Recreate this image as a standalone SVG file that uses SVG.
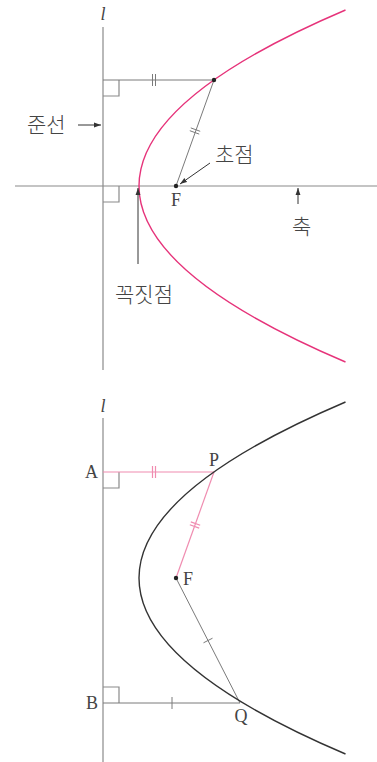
<svg xmlns="http://www.w3.org/2000/svg" width="377" height="762" viewBox="0 0 377 762">
<style>
.ax{stroke:#8a8a8a;stroke-width:1.2;fill:none}
.thin{stroke:#7a7a7a;stroke-width:1;fill:none}
.pk{stroke:#f08cb0;stroke-width:1.2;fill:none}
.mag{stroke:#e6337a;stroke-width:1.4;fill:none}
.dk{stroke:#333;stroke-width:1.4;fill:none}
.ko{font-family:"Noto Sans CJK KR",sans-serif;font-size:21px;font-weight:300;fill:#444}
.lt{font-family:"Liberation Serif",serif;font-size:18px;fill:#444}
.it{font-family:"Liberation Serif",serif;font-size:18px;font-style:italic;fill:#444}
</style>
<defs>
<marker id="ah" viewBox="0 0 10 10" refX="10" refY="5" markerWidth="7" markerHeight="7" markerUnits="userSpaceOnUse" orient="auto"><path d="M0,1.5 L10,5 L0,8.5 Z" fill="#333"/></marker>
</defs>
<rect width="377" height="762" fill="#fff"/>
<g id="top">
<g id="top-lines">
<line class="ax" x1="103" y1="27" x2="103" y2="370"/>
<line class="ax" x1="15" y1="186" x2="377" y2="186"/>
<path class="ax" d="M103,96 H119 V80"/>
<path class="ax" d="M103,202 H119 V186"/>
<line class="thin" x1="103" y1="80" x2="214" y2="80"/>
<line class="thin" x1="214" y1="80" x2="176" y2="186"/>
<path class="thin" d="M152.5,74 V86 M155.5,74 V86"/>
<path class="thin" d="M189.8,130.7 L199.2,134.1 M190.8,127.9 L200.2,131.3"/>
</g>
<path id="top-curve" class="mag" d="M345.5,10 Q-67.5,186 345.5,362"/>
<circle cx="214" cy="80" r="2.2" fill="#222"/>
<circle cx="176" cy="186" r="2.2" fill="#222"/>
<g id="top-arrows" stroke="#333" stroke-width="1" fill="none">
<line x1="78" y1="125" x2="101" y2="125" marker-end="url(#ah)"/>
<line x1="210" y1="163" x2="180" y2="184" marker-end="url(#ah)"/>
<line x1="298" y1="204" x2="298" y2="188" marker-end="url(#ah)"/>
<line x1="138" y1="264" x2="138" y2="188" marker-end="url(#ah)"/>
</g>
<g id="top-labels">
<text class="it" x="103" y="20" text-anchor="middle">l</text>
<text class="ko" x="27" y="132">준선</text>
<text class="ko" x="215" y="162">초점</text>
<text class="ko" x="292" y="234">축</text>
<text class="ko" x="115" y="302">꼭짓점</text>
<text class="lt" x="176" y="206" text-anchor="middle">F</text>
</g>
</g>
<g id="bottom">
<line class="ax" x1="103" y1="418" x2="103" y2="762"/>
<path class="ax" d="M103,488 H119 V472"/>
<path class="ax" d="M103,687 H119 V703"/>
<g id="bottom-connectors">
<line class="pk" x1="103" y1="472" x2="214" y2="472"/>
<line class="pk" x1="214" y1="472" x2="176" y2="578"/>
<path class="pk" d="M152.5,466 V478 M155.5,466 V478"/>
<path class="pk" d="M189.8,524.7 L199.2,528.1 M190.8,521.9 L200.2,525.3"/>
<line class="thin" x1="103" y1="703" x2="240" y2="703"/>
<line class="thin" x1="176" y1="578" x2="240" y2="703"/>
<path class="thin" d="M172,697 V709"/>
<path class="thin" d="M203.5,642.8 L212.5,638.2"/>
</g>
<path id="bottom-curve" class="dk" d="M345.5,402 Q-67.5,578 345.5,754"/>
<circle cx="176" cy="578" r="2.2" fill="#222"/>
<g id="bottom-labels">
<text class="it" x="103" y="412" text-anchor="middle">l</text>
<text class="lt" x="98" y="478" text-anchor="end">A</text>
<text class="lt" x="98" y="709" text-anchor="end">B</text>
<text class="lt" x="214" y="466" text-anchor="middle">P</text>
<text class="lt" x="241" y="722" text-anchor="middle">Q</text>
<text class="lt" x="183" y="585">F</text>
</g>
</g>
</svg>
